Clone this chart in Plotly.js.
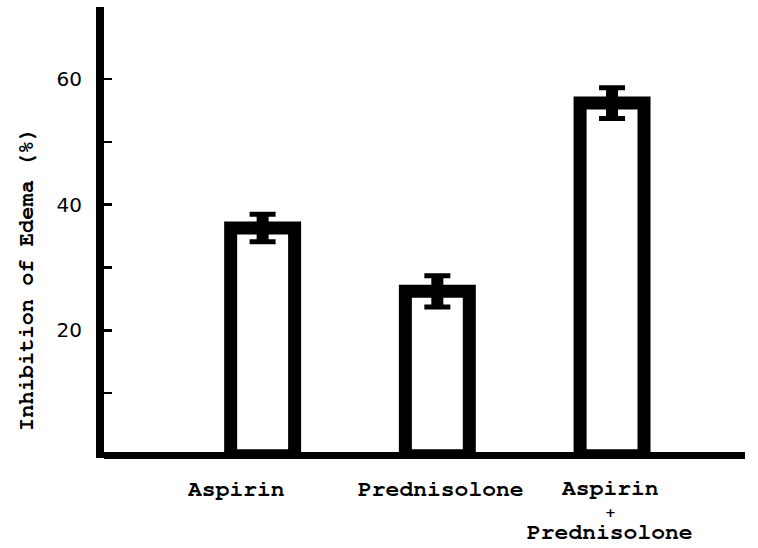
<!DOCTYPE html>
<html><head><meta charset="utf-8">
<script src="https://cdn.plot.ly/plotly-3.0.1.min.js"></script>
<style>html,body{margin:0;padding:0;background:#fff}</style>
</head><body>
<div id="chart" style="width:758px;height:548px"></div>
<script>
// ---- data ----
const categories = ["Aspirin", "Prednisolone", "Aspirin + Prednisolone"];
const labelLines = [["Aspirin"], ["Prednisolone"], ["Aspirin", "+", "Prednisolone"]];
const inhibition = [36.3, 26.2, 56.2];
const errors = [2.2, 2.5, 2.45];
const yTickVals = [10, 20, 30, 40, 50, 60];
const yTickText = ["", "20", "", "40", "", "60"];
const yTitle = "Inhibition of Edema (%)";

// ---- style ----
const labelShift = [-26, 4, -2];
const lineOffsets = [[-19], [-19], [-18, -46, -62]];
const lineSizes = [[23], [23], [23, 13, 23]];
const monoFamily = "FreeMono, 'Liberation Mono', monospace";
const lineFamilies = [[monoFamily], [monoFamily], [monoFamily, "'DejaVu Sans', sans-serif", monoFamily]];

const bars = {
  type: "bar",
  x: categories,
  y: inhibition,
  width: 0.366,
  marker: {color: "#fff", line: {color: "#000", width: 13}},
  error_y: {type: "data", array: errors, visible: true, color: "#000", thickness: 5, width: 13},
  hoverinfo: "skip"
};
const stems = {
  type: "scatter",
  mode: "markers",
  x: categories,
  y: inhibition,
  marker: {size: 1, color: "rgba(0,0,0,0)"},
  error_y: {type: "data", array: errors, visible: true, color: "#000", thickness: 12, width: 0},
  hoverinfo: "skip"
};

const annotations = [];
labelLines.forEach((lines, i) => {
  lines.forEach((txt, j) => {
    annotations.push({
      xref: "x", yref: "paper", x: categories[i], y: 0,
      xanchor: "center", yanchor: "top", borderpad: 0,
      xshift: labelShift[i], yshift: lineOffsets[i][j],
      text: "<b>" + txt + "</b>", showarrow: false,
      font: {family: lineFamilies[i][j], size: lineSizes[i][j], color: "#000"}
    });
  });
});
annotations.push({
  xref: "paper", yref: "paper", x: 0, y: 0.397,
  xanchor: "center", yanchor: "middle", xshift: -78,
  textangle: -90, text: "<b>" + yTitle + "</b>", showarrow: false,
  font: {family: monoFamily, size: 22, color: "#000"}
});

const layout = {
  width: 758, height: 548,
  margin: {l: 104, r: 13, t: 7, b: 90, pad: 0},
  paper_bgcolor: "#fff", plot_bgcolor: "#fff",
  showlegend: false,
  hovermode: false,
  xaxis: {
    type: "category",
    range: [-0.908, 2.761],
    showticklabels: false, ticks: "",
    showgrid: false, zeroline: false, showline: false, fixedrange: true
  },
  yaxis: {
    range: [-0.35, 71.5],
    tickvals: yTickVals, ticktext: yTickText,
    ticks: "inside", ticklen: 8, tickwidth: 2.5, tickcolor: "#000",
    tickfont: {family: "'DejaVu Sans', sans-serif", size: 20, color: "#000"},
    ticklabelstandoff: 10,
    showline: true, linewidth: 8, linecolor: "#000",
    showgrid: false,
    zeroline: true, zerolinewidth: 7, zerolinecolor: "#000",
    fixedrange: true
  },
  annotations: annotations
};

Plotly.newPlot("chart", [bars, stems], layout, {staticPlot: true, displayModeBar: false});
</script>
</body></html>
